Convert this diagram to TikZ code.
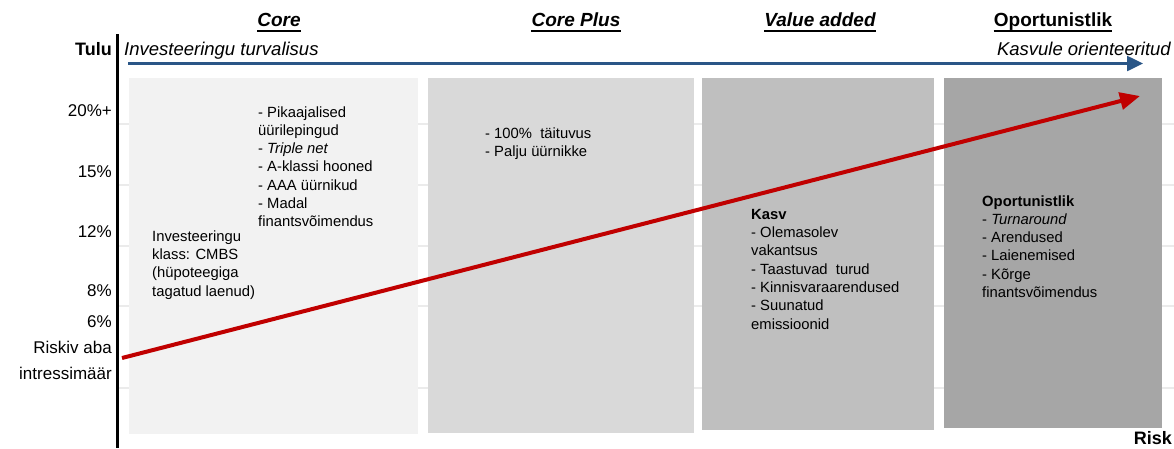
\documentclass[tikz,border=0pt]{standalone}
\usepackage{fontspec}
\setmainfont{Liberation Sans}
\usetikzlibrary{arrows.meta}
\definecolor{boxA}{HTML}{F2F2F2}
\definecolor{boxB}{HTML}{D9D9D9}
\definecolor{boxC}{HTML}{BFBFBF}
\definecolor{boxD}{HTML}{A6A6A6}
\definecolor{gridc}{HTML}{EBEBEB}
\definecolor{axblue}{HTML}{2A5687}
\definecolor{riskred}{HTML}{C00000}
\tikzset{
  lbl/.style={font=\fontsize{17}{20}\selectfont, anchor=base east, inner sep=0pt},
  body/.style={font=\fontsize{14.8}{18.3}\selectfont, anchor=base west, inner sep=0pt, align=left},
  hdr/.style={font=\fontsize{19}{22}\selectfont\bfseries\itshape, anchor=base, inner sep=0pt},
  topit/.style={font=\fontsize{18.5}{22}\selectfont\itshape, inner sep=0pt},
  zone/.style={draw=none, inner sep=0pt, anchor=north west},
  gridline/.style={draw=gridc, line width=2pt},
  uline/.style={line width=2pt, black}
}
\begin{document}
\begin{tikzpicture}[x=1pt,y=-1pt]
\useasboundingbox (0,0) rectangle (1174,448);
% grid lines
\foreach \gy in {124,185,246,306,388} \draw[gridline] (119,\gy) -- (1174,\gy);
% zones
\node[zone, fill=boxA, minimum width=289pt, minimum height=356pt] (core) at (129,78) {};
\node[zone, fill=boxB, minimum width=266pt, minimum height=355pt] (coreplus) at (428,78) {};
\node[zone, fill=boxC, minimum width=232pt, minimum height=352pt] (value) at (702,78) {};
\node[zone, fill=boxD, minimum width=218pt, minimum height=350pt] (oport) at (944,78) {};
% axis
\coordinate (axtop) at (117.5,34);
\coordinate (axbot) at (117.5,448);
\draw[line width=2.5pt] (axtop) -- (axbot);
% headers
\node[hdr] (hcore) at (279,26) {Core};
\node[hdr] (hcp) at (576,26) {Core Plus};
\node[hdr] (hva) at (820,26) {Value added};
\node[hdr, font=\fontsize{19}{22}\selectfont\bfseries] (hop) at (1053,26) {Oportunistlik};
\foreach \h in {hcore,hcp,hva,hop}
  \draw[uline] ([yshift=-5pt]\h.base west) -- ([yshift=-5pt]\h.base east);
% top labels
\node[topit, anchor=base west] (safe) at (124,55) {Investeeringu turvalisus};
\node[topit, anchor=base east] (grow) at (1171,55) {Kasvule orienteeritud};
% blue arrow
\coordinate (bstart) at (128,63.5);
\coordinate (bend) at (1143,63.5);
\draw[axblue, line width=2.5pt, -{Triangle[length=16pt,width=15pt]}] (bstart) -- (bend);
% y labels
\node[lbl, font=\fontsize{18}{20}\selectfont\bfseries] (tulu) at (112,55) {Tulu};
\node[lbl] (y20) at (112,116.7) {20\%+};
\node[lbl] (y15) at (112,177.3) {15\%};
\node[lbl] (y12) at (112,237.3) {12\%};
\node[lbl] (y8) at (112,296.7) {8\%};
\node[lbl] (y6) at (112,327.3) {6\%};
\node[lbl] (rf1) at (112,353.3) {Riskiv aba};
\node[lbl] (rf2) at (112,379) {intressimäär};
\node[lbl, font=\fontsize{18}{20}\selectfont\bfseries] (risk) at (1172,444) {Risk};
% texts (base anchor = baseline of last line)
\node[body] (tcore) at (258,226.8) {- Pikaajalised\\üürilepingud\\- \textit{Triple net}\\- A-klassi hooned\\- AAA üürnikud\\- Madal\\finantsvõimendus};
\node[body] (tcmbs) at (152,296) {Investeeringu\\klass: CMBS\\(hüpoteegiga\\tagatud laenud)};
\node[body] (tcp) at (485,156.3) {- 100\%\ \ täituvus\\- Palju üürnikke};
\node[body] (tva) at (751,329.1) {\textbf{Kasv}\\- Olemasolev\\vakantsus\\- Taastuvad\ \ turud\\- Kinnisvaraarendused\\- Suunatud\\emissioonid};
\node[body] (top) at (982,297.5) {\textbf{Oportunistlik}\\- \textit{Turnaround}\\- Arendused\\- Laienemised\\- Kõrge\\finantsvõimendus};
% red arrow
\coordinate (rstart) at (122,358);
\coordinate (rend) at (1140,96);
\draw[riskred, line width=4pt, -{Triangle[length=20pt,width=17pt]}] (rstart) -- (rend);
\end{tikzpicture}
\end{document}
